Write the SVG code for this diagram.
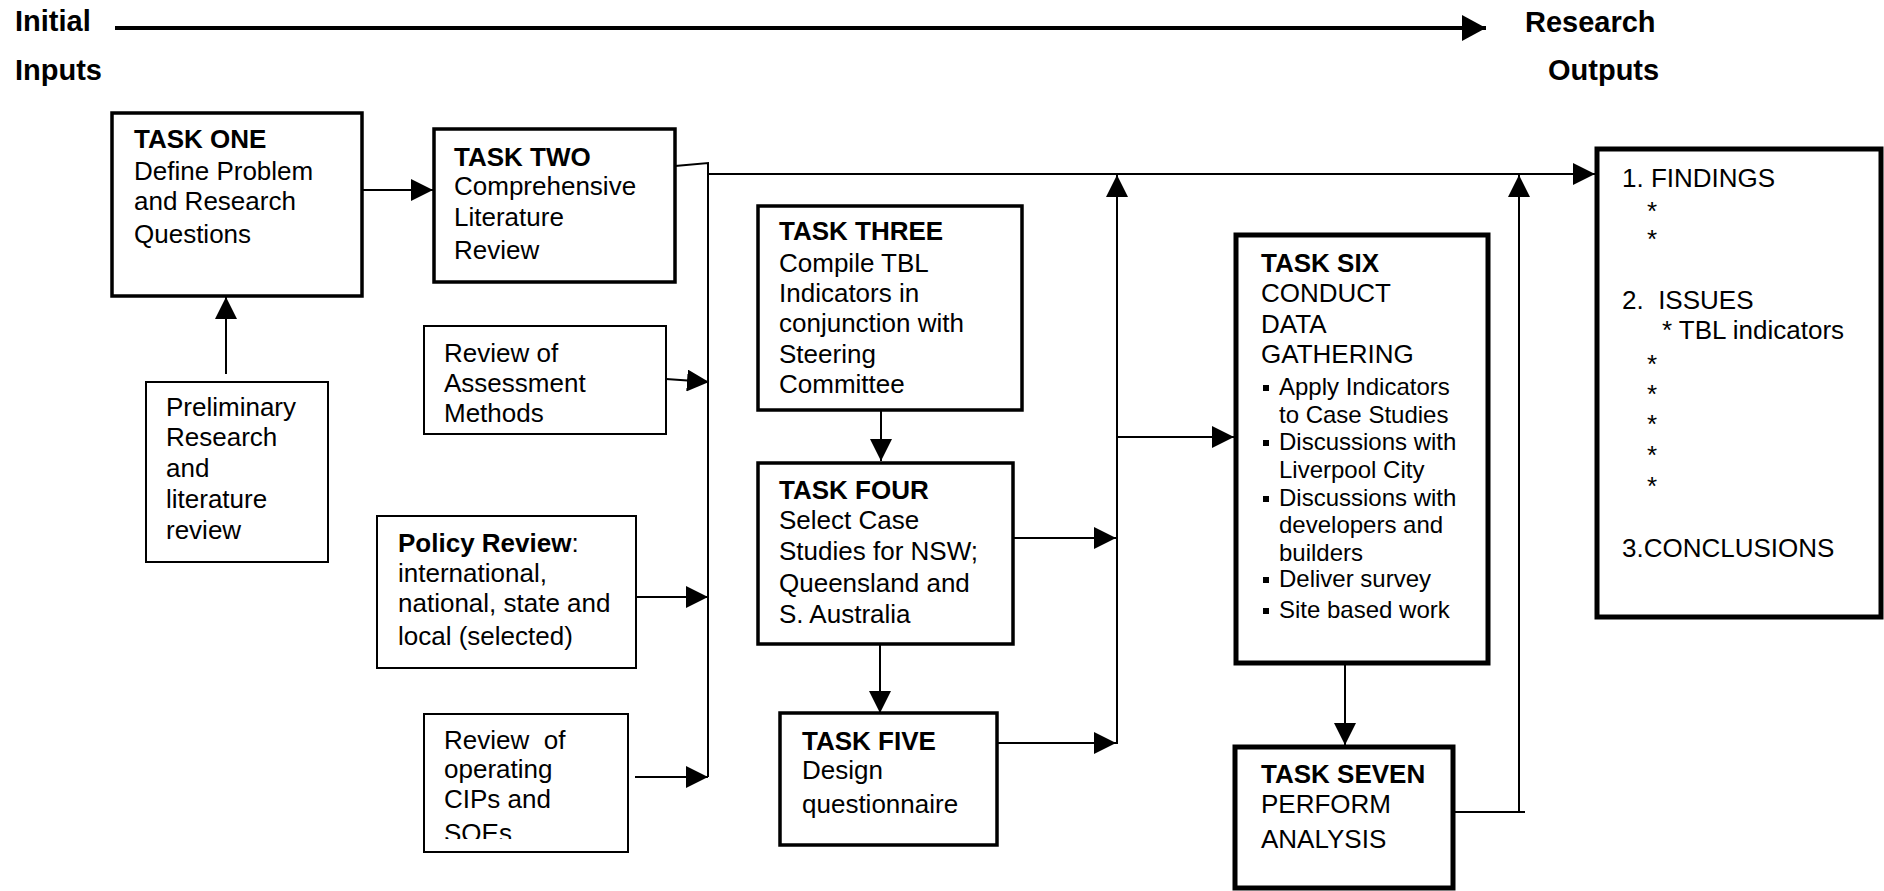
<svg xmlns="http://www.w3.org/2000/svg" width="1884" height="891" viewBox="0 0 1884 891">
<style>
text{font-family:"Liberation Sans",Arial,sans-serif;font-size:26px;fill:#000;white-space:pre}
.title{font-weight:bold;font-size:29px}
.b{font-weight:bold}
.sm{font-size:24px}
.task{fill:#fff;stroke:#000;stroke-width:3.5}
.task2{fill:#fff;stroke:#000;stroke-width:5}
.inp{fill:#fff;stroke:#000;stroke-width:2}
.c{fill:none;stroke:#000;stroke-width:2}
</style>
<defs>
<marker id="ah" viewBox="0 0 22 22" refX="22" refY="11" markerWidth="22" markerHeight="22" markerUnits="userSpaceOnUse" orient="auto"><path d="M0,0 L22,11 L0,22 Z" fill="#000"/></marker>
<marker id="ahBig" viewBox="0 0 24 26" refX="24" refY="13" markerWidth="24" markerHeight="26" markerUnits="userSpaceOnUse" orient="auto"><path d="M0,0 L24,13 L0,26 Z" fill="#000"/></marker>
<clipPath id="clipSoe"><rect x="424" y="714" width="204" height="125"/></clipPath>
</defs>
<rect width="1884" height="891" fill="#fff"/>

<g id="header">
<text class="title" x="15" y="31">Initial</text>
<text class="title" x="15" y="80">Inputs</text>
<text class="title" x="1525" y="32">Research</text>
<text class="title" x="1548" y="80">Outputs</text>
<line x1="115" y1="28" x2="1486" y2="28" stroke="#000" stroke-width="4" marker-end="url(#ahBig)"/>
</g>

<g id="connectors">
<line class="c" x1="362" y1="190" x2="433" y2="190" marker-end="url(#ah)"/>
<line class="c" x1="226" y1="374" x2="226" y2="297" marker-end="url(#ah)"/>
<polyline class="c" points="675,166 708,163 708,777"/>
<line class="c" x1="708" y1="174" x2="1595" y2="174" marker-end="url(#ah)"/>
<line class="c" x1="666" y1="379" x2="709" y2="382" marker-end="url(#ah)"/>
<line class="c" x1="636" y1="597" x2="708" y2="597" marker-end="url(#ah)"/>
<line class="c" x1="635" y1="777" x2="708" y2="777" marker-end="url(#ah)"/>
<line class="c" x1="881" y1="410" x2="881" y2="461" marker-end="url(#ah)"/>
<line class="c" x1="880" y1="644" x2="880" y2="713" marker-end="url(#ah)"/>
<line class="c" x1="1009" y1="538" x2="1116" y2="538" marker-end="url(#ah)"/>
<line class="c" x1="993" y1="743" x2="1116" y2="743" marker-end="url(#ah)"/>
<line class="c" x1="1117" y1="744" x2="1117" y2="175" marker-end="url(#ah)"/>
<line class="c" x1="1117" y1="437" x2="1234" y2="437" marker-end="url(#ah)"/>
<line class="c" x1="1345" y1="663" x2="1345" y2="745" marker-end="url(#ah)"/>
<line class="c" x1="1453" y1="812" x2="1525" y2="812"/>
<line class="c" x1="1519" y1="812" x2="1519" y2="175" marker-end="url(#ah)"/>
</g>

<g id="task1">
<rect class="task" x="112" y="113" width="250" height="183"/>
<text x="134" y="148" class="b">TASK ONE</text>
<text x="134" y="180">Define Problem</text>
<text x="134" y="210">and Research</text>
<text x="134" y="243">Questions</text>
</g>

<g id="task2">
<rect class="task" x="434" y="129" width="241" height="153"/>
<text x="454" y="166" class="b">TASK TWO</text>
<text x="454" y="195">Comprehensive</text>
<text x="454" y="226">Literature</text>
<text x="454" y="259">Review</text>
</g>

<g id="preliminary">
<rect class="inp" x="146" y="382" width="182" height="180"/>
<text x="166" y="416">Preliminary</text>
<text x="166" y="446">Research</text>
<text x="166" y="477">and</text>
<text x="166" y="508">literature</text>
<text x="166" y="539">review</text>
</g>

<g id="assessment">
<rect class="inp" x="424" y="326" width="242" height="108"/>
<text x="444" y="362">Review of</text>
<text x="444" y="392">Assessment</text>
<text x="444" y="422">Methods</text>
</g>

<g id="policy">
<rect class="inp" x="377" y="516" width="259" height="152"/>
<text x="398" y="552"><tspan class="b">Policy Review</tspan>:</text>
<text x="398" y="582">international,</text>
<text x="398" y="612">national, state and</text>
<text x="398" y="645">local (selected)</text>
</g>

<g id="operating">
<rect class="inp" x="424" y="714" width="204" height="138"/>
<g clip-path="url(#clipSoe)">
<text x="444" y="749">Review  of</text>
<text x="444" y="778">operating</text>
<text x="444" y="808">CIPs and</text>
<text x="444" y="842">SOEs</text>
</g>
</g>

<g id="task3">
<rect class="task" x="758" y="206" width="264" height="204"/>
<text x="779" y="240" class="b">TASK THREE</text>
<text x="779" y="272">Compile TBL</text>
<text x="779" y="302">Indicators in</text>
<text x="779" y="332">conjunction with</text>
<text x="779" y="363">Steering</text>
<text x="779" y="393">Committee</text>
</g>

<g id="task4">
<rect class="task" x="758" y="463" width="255" height="181"/>
<text x="779" y="499" class="b">TASK FOUR</text>
<text x="779" y="529">Select Case</text>
<text x="779" y="560">Studies for NSW;</text>
<text x="779" y="592">Queensland and</text>
<text x="779" y="623">S. Australia</text>
</g>

<g id="task5">
<rect class="task" x="780" y="713" width="217" height="132"/>
<text x="802" y="750" class="b">TASK FIVE</text>
<text x="802" y="779">Design</text>
<text x="802" y="813">questionnaire</text>
</g>

<g id="task6">
<rect class="task2" x="1236" y="235" width="252" height="428"/>
<text x="1261" y="272" class="b">TASK SIX</text>
<text x="1261" y="302">CONDUCT</text>
<text x="1261" y="333">DATA</text>
<text x="1261" y="363">GATHERING</text>
<rect x="1263" y="385" width="6" height="6"/>
<text x="1279" y="395" class="sm">Apply Indicators</text>
<text x="1279" y="423" class="sm">to Case Studies</text>
<rect x="1263" y="440" width="6" height="6"/>
<text x="1279" y="450" class="sm">Discussions with</text>
<text x="1279" y="478" class="sm">Liverpool City</text>
<rect x="1263" y="496" width="6" height="6"/>
<text x="1279" y="506" class="sm">Discussions with</text>
<text x="1279" y="533" class="sm">developers and</text>
<text x="1279" y="561" class="sm">builders</text>
<rect x="1263" y="577" width="6" height="6"/>
<text x="1279" y="587" class="sm">Deliver survey</text>
<rect x="1263" y="608" width="6" height="6"/>
<text x="1279" y="618" class="sm">Site based work</text>
</g>

<g id="task7">
<rect class="task2" x="1235" y="747" width="218" height="141"/>
<text x="1261" y="783" class="b">TASK SEVEN</text>
<text x="1261" y="813">PERFORM</text>
<text x="1261" y="848">ANALYSIS</text>
</g>

<g id="outputs">
<rect class="task2" x="1597" y="149" width="284" height="468"/>
<text x="1622" y="187">1. FINDINGS</text>
<text x="1647" y="220">*</text>
<text x="1647" y="248">*</text>
<text x="1622" y="309">2.  ISSUES</text>
<text x="1662" y="339">* TBL indicators</text>
<text x="1647" y="373">*</text>
<text x="1647" y="403">*</text>
<text x="1647" y="433">*</text>
<text x="1647" y="464">*</text>
<text x="1647" y="495">*</text>
<text x="1622" y="557">3.CONCLUSIONS</text>
</g>
</svg>
